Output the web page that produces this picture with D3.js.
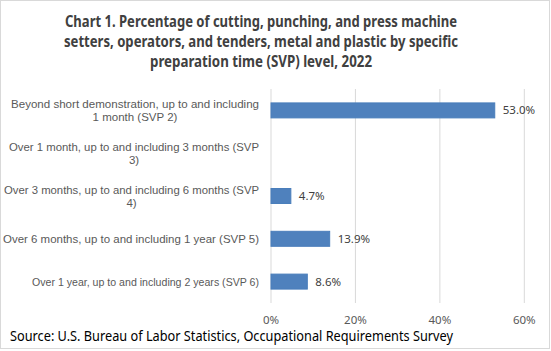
<!DOCTYPE html>
<html>
<head>
<meta charset="utf-8">
<script src="https://cdn.jsdelivr.net/npm/d3@7"></script>
<style>
  body { margin: 0; background: #fff; }
  svg { display: block; }
  text { font-family: "Noto Sans", "Open Sans", sans-serif; }
  text.cat { font-family: "Liberation Sans", Arial, sans-serif; }
</style>
</head>
<body>
<div id="chart"></div>
<script>
const titleLines = [
  'Chart 1. Percentage of cutting, punching, and press machine',
  'setters, operators, and tenders, metal and plastic by specific',
  'preparation time (SVP) level, 2022'
];
const categories = [
  ['Beyond short demonstration, up to and including', '1 month (SVP 2)'],
  ['Over 1 month, up to and including 3 months (SVP', '3)'],
  ['Over 3 months, up to and including 6 months (SVP', '4)'],
  ['Over 6 months, up to and including 1 year (SVP 5)'],
  ['Over 1 year, up to and including 2 years (SVP 6)']
];
const values = [53.0, null, 4.7, 13.9, 8.6];
const ticks = [0, 20, 40, 60];
const source = 'Source: U.S. Bureau of Labor Statistics, Occupational Requirements Survey';

const width = 551, height = 351;
const svg = d3.select('#chart').append('svg')
  .attr('width', width).attr('height', height);

// outer frame
svg.append('rect')
  .attr('x', 0.5).attr('y', 0.5)
  .attr('width', 549).attr('height', 348)
  .attr('fill', '#fff').attr('stroke', '#d9d9d9');

// fit a text element to a target width
function fit(sel, w) {
  sel.attr('textLength', w).attr('lengthAdjust', 'spacingAndGlyphs');
}

const titleWidths = [392, 394, 222];
titleLines.forEach((t, i) => {
  svg.append('text')
    .attr('x', 261).attr('y', 27 + i * 20)
    .attr('text-anchor', 'middle')
    .attr('font-size', 16).attr('font-weight', 'bold')
    .attr('fill', '#404040')
    .text(t)
    .call(fit, titleWidths[i]);
});

const x = d3.scaleLinear().domain([0, 60]).range([271, 524.3]);
const y = d3.scaleBand()
  .domain(d3.range(categories.length))
  .range([89, 303])
  .paddingInner(0.65).paddingOuter(0.325);

// gridlines
svg.append('g').selectAll('line')
  .data(ticks).join('line')
  .attr('x1', d => x(d)).attr('x2', d => x(d))
  .attr('y1', 89).attr('y2', 303)
  .attr('stroke', '#d9d9d9').attr('stroke-width', 1);

// tick labels
svg.append('g').selectAll('text')
  .data(ticks).join('text')
  .attr('x', d => x(d)).attr('y', 324)
  .attr('text-anchor', 'middle')
  .attr('font-size', 11.5).attr('fill', '#595959')
  .text(d => d + '%');

// category labels
const labelRight = 259;
const firstLineWidths = [248, 250, 255, 256, 227];
categories.forEach((lines, i) => {
  const cy = y(i) + y.bandwidth() / 2;
  const lh = 13;
  const top = cy - (lines.length - 1) * lh / 2;
  const blockW = firstLineWidths[i];
  lines.forEach((l, j) => {
    const t = svg.append('text')
      .attr('class', 'cat')
      .attr('x', labelRight - blockW / 2)
      .attr('y', top + j * lh + 4)
      .attr('text-anchor', 'middle')
      .attr('font-size', 11.5).attr('fill', '#595959')
      .text(l);
    if (j === 0) t.call(fit, blockW);
  });
});

// bars
const data = values.map((v, i) => ({ v, i })).filter(d => d.v != null);
svg.append('g').selectAll('rect')
  .data(data).join('rect')
  .attr('x', x(0)).attr('y', d => y(d.i))
  .attr('width', d => x(d.v) - x(0))
  .attr('height', y.bandwidth())
  .attr('fill', '#4f81bd').attr('stroke', '#4a7ebb').attr('stroke-width', 1);

// value labels
svg.append('g').selectAll('text')
  .data(data).join('text')
  .attr('x', d => x(d.v) + 8)
  .attr('y', d => y(d.i) + y.bandwidth() / 2 + 4)
  .attr('font-size', 11.5).attr('fill', '#404040')
  .text(d => d.v.toFixed(1) + '%');

// source
svg.append('text')
  .attr('x', 10).attr('y', 341)
  .attr('font-size', 13.5).attr('fill', '#000')
  .text(source)
  .call(fit, 443);
</script>
</body>
</html>
